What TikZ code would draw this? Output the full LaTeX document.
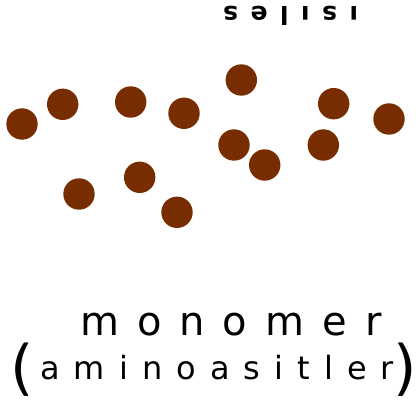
\documentclass[tikz,border=0pt]{standalone}
\usepackage{fontspec}
\setmainfont{DejaVu Sans}
\newfontfamily\handA[LetterSpace=45]{DejaVu Sans}
\newfontfamily\handB[LetterSpace=44]{DejaVu Sans}
\newfontfamily\handC[LetterSpace=50]{DejaVu Sans Bold}
\definecolor{dotbrown}{RGB}{119,45,0}
\begin{document}
\begin{tikzpicture}[x=1pt,y=-1pt,
  dot/.style={circle,fill=dotbrown,draw=none,minimum size=31.4pt,inner sep=0pt},
  hand/.style={inner sep=0pt,text=black}]
\useasboundingbox[fill=white] (0,0) rectangle (418,406);
\node[dot] (d1) at (22,124) {};
\node[dot] (d2) at (62.7,104.3) {};
\node[dot] (d3) at (130.7,102) {};
\node[dot] (d4) at (184,113.3) {};
\node[dot] (d5) at (241.3,80) {};
\node[dot] (d6) at (333.7,103.7) {};
\node[dot] (d7) at (389,119) {};
\node[dot] (d8) at (234,145) {};
\node[dot] (d9) at (264.7,165) {};
\node[dot] (d10) at (323.3,145) {};
\node[dot] (d11) at (79,194) {};
\node[dot] (d12) at (139.7,177.3) {};
\node[dot] (d13) at (177,212.3) {};
\node[hand,anchor=base west] (t1) at (80,335) {\fontsize{40}{44}\selectfont\handA monomer};
\node[hand,anchor=base west] (t2) at (40,379) {\fontsize{32}{36}\selectfont\handB aminoasitler};
\node[hand,anchor=base west] (p1) at (10,388) {\fontsize{60}{62}\selectfont (};
\node[hand,anchor=base west] (p2) at (393,388) {\fontsize{60}{62}\selectfont )};
\node[hand,rotate=180,anchor=base east] (t3) at (223,7) {\fontsize{25}{27}\selectfont\handC ısıles};
\end{tikzpicture}
\end{document}
